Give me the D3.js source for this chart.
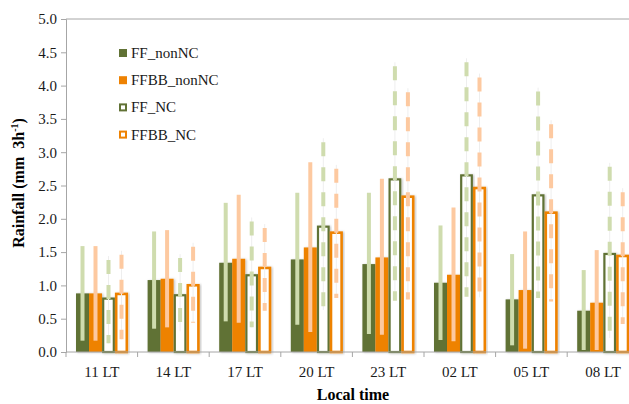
<html>
  <head>
    <style>
      body { margin: 0; background: #fff; }
      .axis path, .axis line { stroke: #a6a6a6; }
    </style>
  </head>
  <body>
    <script src="https://d3js.org/d3.v7.min.js"></script>
    <script>
    var width = 629, height = 404;
    var margin = {left: 66, top: 19, bottom: 52};
    var plotRight = 638.8;
    var serif = "'Liberation Serif', 'Times New Roman', serif";

    // data
    var categories = ["11 LT", "14 LT", "17 LT", "20 LT", "23 LT", "02 LT", "05 LT", "08 LT"];
    var seriesNames = ["FF_nonNC", "FFBB_nonNC", "FF_NC", "FFBB_NC"];

    var ffNonNC   = [0.88, 1.08, 1.34, 1.39, 1.32, 1.04, 0.79, 0.62];
    var ffbbNonNC = [0.88, 1.10, 1.40, 1.57, 1.42, 1.16, 0.93, 0.74];
    var ffNC      = [0.82, 0.87, 1.17, 1.90, 2.61, 2.67, 2.37, 1.49];
    var ffbbNC    = [0.89, 1.02, 1.28, 1.81, 2.35, 2.48, 2.11, 1.46];

    var ffNonNCLow    = [0.17, 0.35, 0.46, 0.41, 0.27, 0.18, 0.10, 0.03];
    var ffNonNCHigh   = [1.59, 1.81, 2.24, 2.39, 2.39, 1.90, 1.47, 1.23];
    var ffbbNonNCLow  = [0.17, 0.37, 0.44, 0.30, 0.26, 0.16, 0.05, 0.03];
    var ffbbNonNCHigh = [1.59, 1.83, 2.36, 2.85, 2.60, 2.17, 1.81, 1.53];
    var ffNCLow       = [0.13, 0.31, 0.37, 0.63, 0.77, 0.83, 0.81, 0.21];
    var ffNCHigh      = [1.38, 1.41, 1.96, 3.15, 4.29, 4.35, 3.91, 2.78];
    var ffbbNCLow     = [0.19, 0.44, 0.62, 0.81, 0.79, 0.82, 0.76, 0.42];
    var ffbbNCHigh    = [1.46, 1.58, 1.86, 2.75, 3.90, 4.12, 3.42, 2.40];

    var yTicks = [0, 0.5, 1, 1.5, 2, 2.5, 3, 3.5, 4, 4.5, 5];

    var series = [
      {name: seriesNames[0], values: ffNonNC,   low: ffNonNCLow,   high: ffNonNCHigh,   main: "#617235", light: "#cfdcae", open: false},
      {name: seriesNames[1], values: ffbbNonNC, low: ffbbNonNCLow, high: ffbbNonNCHigh, main: "#ee8202", light: "#fdc9a0", open: false},
      {name: seriesNames[2], values: ffNC,      low: ffNCLow,      high: ffNCHigh,      main: "#617235", light: "#cfdcae", open: true},
      {name: seriesNames[3], values: ffbbNC,    low: ffbbNCLow,    high: ffbbNCHigh,    main: "#ee8202", light: "#fdc9a0", open: true}
    ];

    var svg = d3.select("body")
        .append("svg")
        .attr("width", width)
        .attr("height", height);

    var defs = svg.append("defs");
    var shadow = defs.append("filter").attr("id", "shadow")
        .attr("x", "-20%").attr("y", "-5%").attr("width", "150%").attr("height", "115%");
    shadow.append("feDropShadow").attr("dx", 1.2).attr("dy", 0.5)
        .attr("stdDeviation", 0.9).attr("flood-color", "#000").attr("flood-opacity", 0.25);

    var x = d3.scaleBand().domain(categories).range([margin.left, plotRight]).padding(0);
    var x1 = d3.scaleBand().domain(seriesNames).range([10, x.bandwidth() - 9.6]).padding(0);
    var y = d3.scaleLinear().domain([0, 5]).range([height - margin.bottom, margin.top]);

    // frame top line
    svg.append("line")
        .attr("x1", margin.left).attr("x2", plotRight)
        .attr("y1", y(5)).attr("y2", y(5))
        .attr("stroke", "#a6a6a6");

    // bars
    series.forEach(function(s) {
      svg.append("g").selectAll("rect")
        .data(s.values)
        .enter().append("rect")
          .attr("x", function(d, i) { return x(categories[i]) + x1(s.name) + (s.open ? 1.2 : 0); })
          .attr("width", x1.bandwidth() - (s.open ? 2.4 : 0))
          .attr("y", function(d) { return y(d) + (s.open ? 1.2 : 0); })
          .attr("height", function(d) { return y(0) - y(d) - (s.open ? 1.2 : 0); })
          .attr("fill", s.open ? "#fff" : s.main)
          .attr("stroke", s.open ? s.main : "none")
          .attr("stroke-width", s.name == "FFBB_NC" ? 2.6 : 2.2)
          .attr("filter", "url(#shadow)");
    });

    // error bars
    series.forEach(function(s) {
      var g = svg.append("g");
      var cx = function(i) { return x(categories[i]) + x1(s.name) + x1.bandwidth() / 2; };
      if (s.open) {
        g.selectAll(".thin")
          .data(s.values)
          .enter().append("line")
            .attr("x1", function(d, i) { return cx(i); })
            .attr("x2", function(d, i) { return cx(i); })
            .attr("y1", function(d, i) { return y(s.high[i]) - 4; })
            .attr("y2", function(d, i) { return y(s.low[i]); })
            .attr("stroke", "#eeeeee")
            .attr("stroke-width", 1);
      }
      g.selectAll(".err")
        .data(s.values)
        .enter().append("line")
          .attr("x1", function(d, i) { return cx(i); })
          .attr("x2", function(d, i) { return cx(i); })
          .attr("y1", function(d, i) { return y(s.high[i]); })
          .attr("y2", function(d, i) { return y(s.low[i]); })
          .attr("stroke", s.light)
          .attr("stroke-width", 4)
          .attr("stroke-dasharray", s.open ? "14,11" : null);
    });

    // axes
    var yAxis = svg.append("g")
        .attr("class", "axis")
        .attr("transform", "translate(" + margin.left + ",0)")
        .call(d3.axisLeft(y).tickValues(yTicks).tickFormat(d3.format(".1f")).tickSize(5).tickPadding(4));
    yAxis.attr("font-family", null).attr("font-size", null);
    yAxis.selectAll("text").style("font-family", serif).style("font-size", "15px").style("fill", "#1a1a1a");

    var xAxis = svg.append("g")
        .attr("class", "axis")
        .attr("transform", "translate(0," + y(0) + ")")
        .call(d3.axisBottom(x).tickSize(0).tickPadding(14));
    xAxis.attr("font-family", null).attr("font-size", null);
    xAxis.select(".domain").remove();
    xAxis.append("line")
        .attr("x1", margin.left).attr("x2", plotRight)
        .attr("stroke", "#a6a6a6");
    xAxis.selectAll(".sep")
        .data(d3.range(categories.length + 1))
        .enter().append("line")
          .attr("x1", function(i) { return margin.left + i * x.step(); })
          .attr("x2", function(i) { return margin.left + i * x.step(); })
          .attr("y1", 0).attr("y2", 5)
          .attr("stroke", "#a6a6a6");
    xAxis.selectAll("text").style("font-family", serif).style("font-size", "15px").style("fill", "#1a1a1a");

    // axis titles
    svg.append("text")
        .attr("x", 353).attr("y", 400)
        .attr("text-anchor", "middle")
        .style("font-family", serif).style("font-size", "16px").style("font-weight", "bold")
        .text("Local time");

    var yt = svg.append("text")
        .attr("transform", "translate(24,183) rotate(-90)")
        .attr("text-anchor", "middle")
        .style("font-family", serif).style("font-size", "16px").style("font-weight", "bold");
    yt.append("tspan").text("Rainfall (mm\u00a0 3h");
    yt.append("tspan").attr("dy", -6).style("font-size", "10px").text("-1");
    yt.append("tspan").attr("dy", 6).text(")");

    // legend
    var legend = svg.append("g").selectAll("g")
        .data(series)
        .enter().append("g")
          .attr("transform", function(d, i) { return "translate(119," + (49 + i * 27.2) + ")"; });
    legend.append("rect")
        .attr("x", function(d) { return d.open ? 1 : 0; })
        .attr("y", function(d) { return d.open ? 1 : 0; })
        .attr("width", function(d) { return d.open ? 6 : 8; })
        .attr("height", function(d) { return d.open ? 6 : 8; })
        .attr("fill", function(d) { return d.open ? "#fff" : d.main; })
        .attr("stroke", function(d) { return d.open ? d.main : "none"; })
        .attr("stroke-width", 2);
    legend.append("text")
        .attr("x", 12).attr("y", 9)
        .style("font-family", serif).style("font-size", "15px").style("fill", "#1a1a1a")
        .text(function(d) { return d.name; });
    </script>
  </body>
</html>
